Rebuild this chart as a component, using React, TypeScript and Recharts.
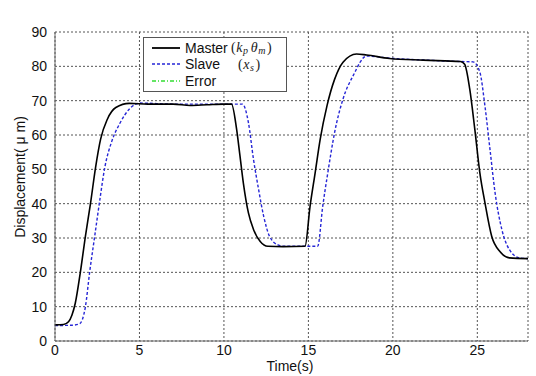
import React from 'react';
import { LineChart, Line, XAxis, YAxis, CartesianGrid, Legend } from 'recharts';

const masterTime = [0, 0.5, 0.8, 1.0, 1.2, 1.5, 1.8, 2.1, 2.4, 2.7, 3.1, 3.6, 4.4, 5.5, 7, 8, 9, 10, 10.45, 10.75, 10.95, 11.15, 11.45, 11.75, 12.15, 12.6, 13.5, 14.8, 15.1, 15.4, 15.7, 16.1, 16.55, 17.05, 17.85, 18.45, 19.8, 21.8, 24.0, 24.25, 24.55, 24.85, 25.15, 25.45, 25.85, 26.35, 26.9, 28];
const masterValue = [4.7, 4.8, 5.6, 7.5, 11, 20, 30.5, 40, 50.5, 58.8, 64.6, 68, 69.2, 69, 69, 68.6, 68.8, 69, 69, 61.7, 53.9, 46, 37.3, 32.5, 29, 27.6, 27.5, 27.6, 39.3, 49, 58.8, 68.5, 76.2, 81.2, 83.6, 83.3, 82.3, 81.8, 81.4, 80.6, 73.4, 61.7, 49, 40.3, 30.5, 26, 24.2, 24];

const slaveTime = [0, 1.0, 1.45, 1.8, 2.05, 2.35, 2.65, 2.95, 3.35, 3.85, 4.45, 5.05, 7, 9, 11.1, 11.45, 11.75, 12.05, 12.35, 12.7, 13.2, 13.6, 15.55, 15.85, 16.15, 16.55, 17.05, 17.65, 18.45, 20, 22, 24.0, 24.75, 25.15, 25.45, 25.75, 26.05, 26.45, 26.9, 27.5, 28];
const slaveValue = [4.5, 4.6, 5, 10, 20, 30.5, 41, 50.6, 58, 63.5, 67.8, 69.3, 69, 69, 69, 63.6, 52.9, 44.2, 36.4, 30.5, 28, 27.6, 27.6, 39.3, 49, 60.7, 70.5, 77.3, 83, 82.3, 81.8, 81.4, 81.3, 78.3, 68.5, 55.8, 43.2, 32.5, 26.6, 24.2, 24];

const xTicks = [0, 5, 10, 15, 20, 25];
const yTicks = [0, 10, 20, 30, 40, 50, 60, 70, 80, 90];

const chartTitle = 'Position Tracking with Delay';
const xLabel = 'Time(s)';
const yLabel = 'Displacement( μ m)';

const masterData = masterTime.map((t, i) => ({ t, v: masterValue[i] }));
const slaveData = slaveTime.map((t, i) => ({ t, v: slaveValue[i] }));

const FONT = 'Liberation Sans, Arial, sans-serif';
const MATH = 'Liberation Serif, Times New Roman, serif';

const YLabel = () => (
  <text x={20} y={177} transform="rotate(-90 20 177)" textAnchor="middle" dominantBaseline="central" fontFamily={FONT} fontSize={14} fill="#111">
    {yLabel}
  </text>
);

const XLabel = () => (
  <text x={290} y={371} textAnchor="middle" fontFamily={FONT} fontSize={14} fill="#111">
    {xLabel}
  </text>
);

const Title = () => (
  <text x={290} y={21} textAnchor="middle" fontFamily={FONT} fontSize={13} fill="#111">
    {chartTitle}
  </text>
);

const LegendBox = () => (
  <div style={{ width: 144, height: 55, border: '1px solid #555', background: '#fff', boxSizing: 'border-box' }}>
    <svg width={142} height={53} style={{ display: 'block' }}>
      <line x1={8} x2={36} y1={10} y2={10} stroke="#000" strokeWidth={1.8} />
      <text x={41} y={15} fontFamily={FONT} fontSize={14} fill="#111">Master</text>
      <text x={87} y={14} fontFamily={MATH} fontSize={14} fill="#222" letterSpacing={0.6}>
        <tspan>(</tspan>
        <tspan fontStyle="italic">k</tspan>
        <tspan fontStyle="italic" fontSize={10} dy={2}>p</tspan>
        <tspan fontStyle="italic" dx={2} dy={-2}>θ</tspan>
        <tspan fontStyle="italic" fontSize={10} dy={2}>m</tspan>
        <tspan dx={1} dy={-2}>)</tspan>
      </text>
      <line x1={8} x2={36} y1={26} y2={26} stroke="#2626d6" strokeWidth={1.4} strokeDasharray="3 2" />
      <text x={41} y={31} fontFamily={FONT} fontSize={14} fill="#111">Slave</text>
      <text x={94} y={31} fontFamily={MATH} fontSize={14} fill="#222" letterSpacing={0.6}>
        <tspan>(</tspan>
        <tspan fontStyle="italic">x</tspan>
        <tspan fontStyle="italic" fontSize={10} dy={2}>s</tspan>
        <tspan dx={1} dy={-2}>)</tspan>
      </text>
      <line x1={8} x2={36} y1={43} y2={43} stroke="#33dd33" strokeWidth={1.6} strokeDasharray="4 2 1 2" />
      <text x={41} y={48} fontFamily={FONT} fontSize={14} fill="#111">Error</text>
    </svg>
  </div>
);

export default function App() {
  return (
    <div style={{ position: 'absolute', left: 0, top: 0, width: 536, height: 376, background: '#fff' }}>
      <LineChart width={536} height={376} margin={{ top: 32, right: 8, bottom: 5, left: 0 }}>
        <CartesianGrid xAxisId="bottom" yAxisId="left" stroke="#555" strokeDasharray="2 2" strokeWidth={1} />
        <XAxis
          xAxisId="bottom"
          dataKey="t"
          type="number"
          domain={[0, 28]}
          ticks={xTicks}
          allowDataOverflow
          height={30}
          tickLine={false}
          tickSize={2}
          tickMargin={2}
          axisLine={{ stroke: '#666' }}
          tick={{ fontFamily: FONT, fontSize: 14, fill: '#111' }}
          label={<XLabel />}
        />
        <XAxis
          xAxisId="top"
          orientation="top"
          dataKey="t"
          type="number"
          domain={[0, 28]}
          ticks={xTicks}
          height={0}
          tick={false}
          tickLine={false}
          axisLine={{ stroke: '#666' }}
          label={<Title />}
        />
        <YAxis
          yAxisId="left"
          type="number"
          domain={[0, 90]}
          ticks={yTicks}
          width={55}
          tickLine={false}
          axisLine={{ stroke: '#666' }}
          tick={{ fontFamily: FONT, fontSize: 14, fill: '#111' }}
          label={<YLabel />}
        />
        <YAxis
          yAxisId="right"
          orientation="right"
          type="number"
          domain={[0, 90]}
          ticks={yTicks}
          width={0}
          tick={false}
          tickLine={false}
          axisLine={{ stroke: '#666' }}
        />
        <Legend
          layout="horizontal"
          verticalAlign="middle"
          wrapperStyle={{ position: 'absolute', left: 143, top: 37, width: 144, height: 55 }}
          content={<LegendBox />}
        />
        <Line
          xAxisId="bottom"
          yAxisId="left"
          data={slaveData}
          dataKey="v"
          type="monotone"
          stroke="#2626d6"
          strokeWidth={1.4}
          strokeDasharray="3 2"
          dot={false}
          isAnimationActive={false}
          name="Slave"
        />
        <Line
          xAxisId="bottom"
          yAxisId="left"
          data={masterData}
          dataKey="v"
          type="monotone"
          stroke="#000"
          strokeWidth={1.6}
          dot={false}
          isAnimationActive={false}
          name="Master"
        />
      </LineChart>
    </div>
  );
}
